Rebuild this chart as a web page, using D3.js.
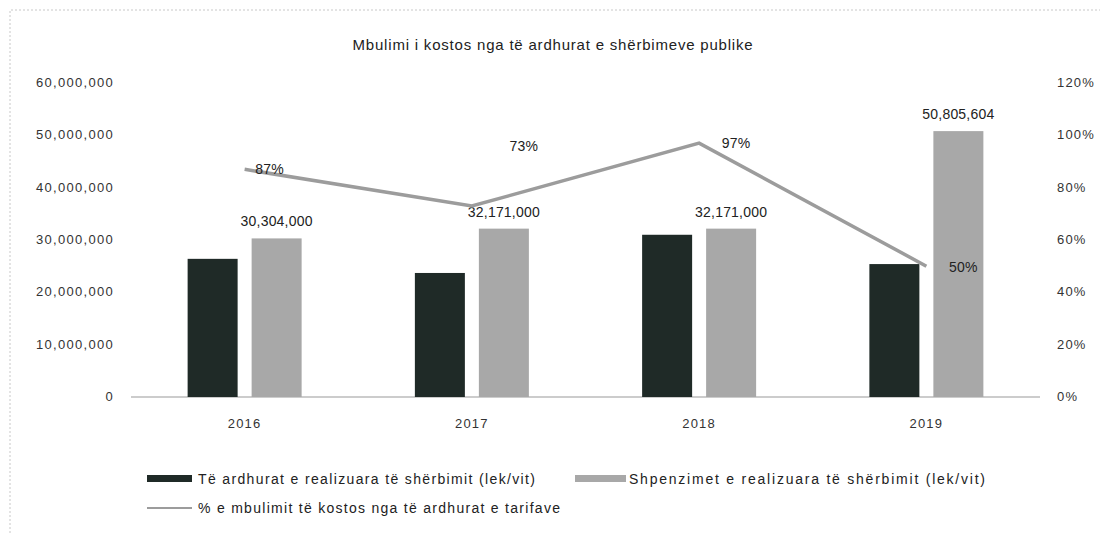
<!DOCTYPE html>
<html>
<head>
<meta charset="utf-8">
<script src="https://cdn.jsdelivr.net/npm/d3@7"></script>
<style>
  body { margin: 0; background: #fff; }
  text { font-family: "Liberation Sans", Arial, sans-serif; }
</style>
</head>
<body>
<svg id="chart" width="1110" height="533"></svg>
<script>
// data
const years = ["2016", "2017", "2018", "2019"];
const revenue = [26400000, 23700000, 31000000, 25400000];
const costs = [30304000, 32171000, 32171000, 50805604];
const costLabels = ["30,304,000", "32,171,000", "32,171,000", "50,805,604"];
const coverage = [0.87, 0.73, 0.97, 0.50];
const leftTicks = [0, 10000000, 20000000, 30000000, 40000000, 50000000, 60000000];
const rightTicks = [0, 0.2, 0.4, 0.6, 0.8, 1.0, 1.2];

const svg = d3.select("#chart");

// frame (dotted, like the scanned page)
svg.append("path")
  .attr("d", "M10,533 L10,10 L1100,10")
  .style("fill", "none")
  .style("stroke", "#c8c8c8")
  .style("stroke-dasharray", "2,2");

const plotLeft = 131, plotRight = 1040, plotTop = 83, plotBottom = 397;

const x = d3.scaleBand().domain(years).range([plotLeft, plotRight]);
const yL = d3.scaleLinear().domain([0, 60000000]).range([plotBottom, plotTop]);
const yR = d3.scaleLinear().domain([0, 1.2]).range([plotBottom, plotTop]);

const barW = 50, gap = 14;

// title
svg.append("text")
  .attr("x", 553).attr("y", 50)
  .attr("text-anchor", "middle")
  .style("font-size", "15px")
  .style("letter-spacing", "0.8px")
  .style("fill", "#222")
  .text("Mbulimi i kostos nga të ardhurat e shërbimeve publike");

// left axis labels
svg.selectAll(".ltick")
  .data(leftTicks)
  .enter().append("text")
  .attr("class", "ltick")
  .attr("x", 114)
  .attr("y", d => yL(d) + 4)
  .attr("text-anchor", "end")
  .style("font-size", "13px")
  .style("letter-spacing", "1.3px")
  .style("fill", "#333")
  .text(d => d3.format(",")(d));

// right axis labels
svg.selectAll(".rtick")
  .data(rightTicks)
  .enter().append("text")
  .attr("class", "rtick")
  .attr("x", 1057)
  .attr("y", d => yR(d) + 4)
  .style("font-size", "13px")
  .style("letter-spacing", "1.2px")
  .style("fill", "#333")
  .text(d => d3.format(".0%")(d));

// baseline
svg.append("line")
  .attr("x1", plotLeft).attr("x2", plotRight)
  .attr("y1", plotBottom).attr("y2", plotBottom)
  .style("stroke", "#999")
  .style("stroke-width", 1);

// x labels
svg.selectAll(".xlab")
  .data(years)
  .enter().append("text")
  .attr("class", "xlab")
  .attr("x", d => x(d) + x.bandwidth() / 2)
  .attr("y", 428)
  .attr("text-anchor", "middle")
  .style("font-size", "13px")
  .style("letter-spacing", "1.2px")
  .style("fill", "#333")
  .text(d => d);

// revenue bars
svg.selectAll(".rev")
  .data(revenue)
  .enter().append("rect")
  .attr("class", "rev")
  .attr("x", (d, i) => x(years[i]) + x.bandwidth() / 2 - gap / 2 - barW)
  .attr("y", d => yL(d))
  .attr("width", barW)
  .attr("height", d => plotBottom - yL(d))
  .style("fill", "#1f2a27");

// cost bars
svg.selectAll(".cost")
  .data(costs)
  .enter().append("rect")
  .attr("class", "cost")
  .attr("x", (d, i) => x(years[i]) + x.bandwidth() / 2 + gap / 2)
  .attr("y", d => yL(d))
  .attr("width", barW)
  .attr("height", d => plotBottom - yL(d))
  .style("fill", "#a8a8a8");

// cost labels
svg.selectAll(".clab")
  .data(costs)
  .enter().append("text")
  .attr("class", "clab")
  .attr("x", (d, i) => x(years[i]) + x.bandwidth() / 2 + gap / 2 + barW / 2)
  .attr("y", d => yL(d) - 12)
  .attr("text-anchor", "middle")
  .style("font-size", "14px")
  .style("letter-spacing", "0.2px")
  .style("fill", "#222")
  .text((d, i) => costLabels[i]);

// coverage line
const line = d3.line()
  .x((d, i) => x(years[i]) + x.bandwidth() / 2)
  .y(d => yR(d));

svg.append("path")
  .datum(coverage)
  .attr("d", line)
  .style("fill", "none")
  .style("stroke", "#9c9c9c")
  .style("stroke-width", 3.5);

// coverage labels (offsets as in the original placement)
const pctOffsets = [[25, 5], [52, -55], [37, 5], [37, 6]];
svg.selectAll(".plab")
  .data(coverage)
  .enter().append("text")
  .attr("class", "plab")
  .attr("x", (d, i) => x(years[i]) + x.bandwidth() / 2 + pctOffsets[i][0])
  .attr("y", (d, i) => yR(d) + pctOffsets[i][1])
  .attr("text-anchor", "middle")
  .style("font-size", "14px")
  .style("letter-spacing", "0.3px")
  .style("fill", "#222")
  .text(d => d3.format(".0%")(d));

// legend
const legend = svg.append("g");
legend.append("rect").attr("x", 147).attr("y", 475).attr("width", 45).attr("height", 7).style("fill", "#1f2a27");
legend.append("text").attr("x", 198).attr("y", 484)
  .attr("textLength", 337).attr("lengthAdjust", "spacing")
  .style("font-size", "14px").style("fill", "#222")
  .text("Të ardhurat e realizuara të shërbimit (lek/vit)");
legend.append("rect").attr("x", 575).attr("y", 475).attr("width", 51).attr("height", 7).style("fill", "#a8a8a8");
legend.append("text").attr("x", 629).attr("y", 484)
  .attr("textLength", 356).attr("lengthAdjust", "spacing")
  .style("font-size", "14px").style("fill", "#222")
  .text("Shpenzimet e realizuara të shërbimit (lek/vit)");
legend.append("line").attr("x1", 147).attr("x2", 192).attr("y1", 508).attr("y2", 508)
  .style("stroke", "#9c9c9c").style("stroke-width", 2);
legend.append("text").attr("x", 198).attr("y", 513)
  .attr("textLength", 362).attr("lengthAdjust", "spacing")
  .style("font-size", "14px").style("fill", "#222")
  .text("% e mbulimit të kostos nga të ardhurat e tarifave");
</script>
</body>
</html>
